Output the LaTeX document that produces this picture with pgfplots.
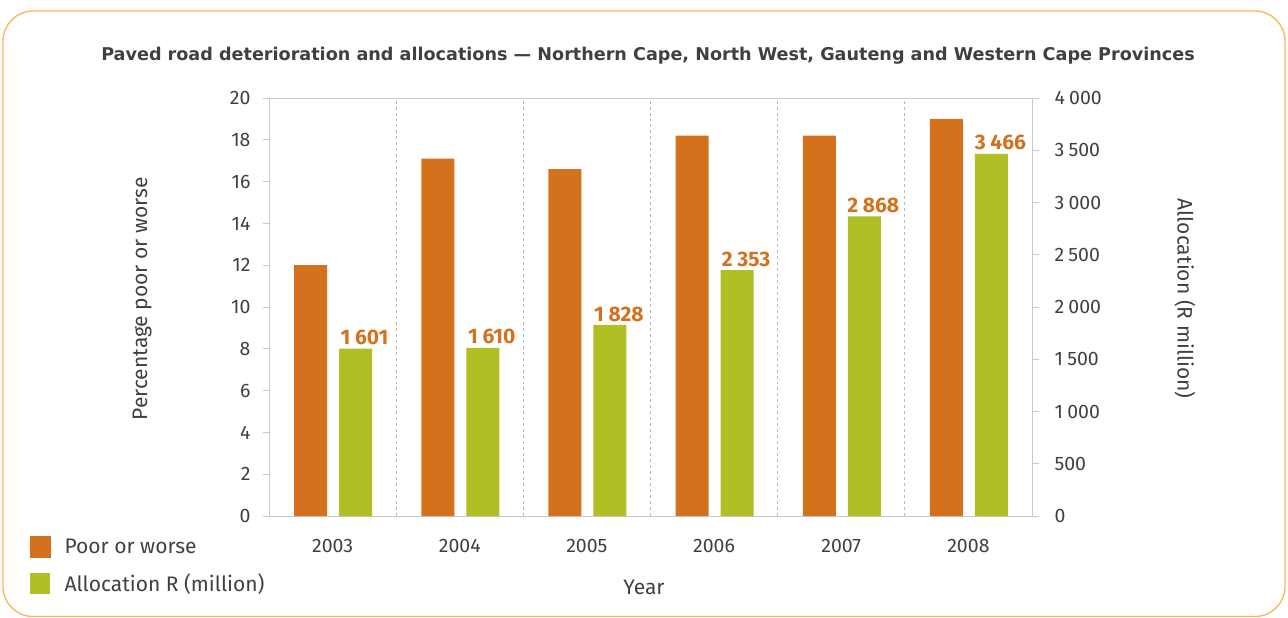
\documentclass[border=0pt]{standalone}
\usepackage{fontspec}
\setmainfont{Fira Sans}
\newfontfamily\titlefont{DejaVu Sans}
\usepackage{pgfplots}
\pgfplotsset{compat=1.18}
\definecolor{barorange}{RGB}{212,113,28}
\definecolor{bargreen}{RGB}{175,191,36}
\definecolor{frameor}{RGB}{248,182,84}
\definecolor{axgray}{RGB}{200,200,206}
\definecolor{txt}{RGB}{64,64,64}
\definecolor{dashgray}{RGB}{185,185,190}
\newcommand\tfont{\fontsize{19.5bp}{22bp}\selectfont}
\newcommand\lfont{\fontsize{21bp}{24bp}\selectfont}
\newcommand\labfont{\fontsize{21bp}{24bp}\selectfont\bfseries}
\begin{document}
\begin{tikzpicture}
\path[use as bounding box] (0,0) rectangle (1288bp,-618bp);
\draw[frameor, line width=1.3bp, rounded corners=30bp] (3bp,-11bp) rectangle (1285bp,-616.5bp);
\node[anchor=base, txt, font=\titlefont\fontsize{17.6bp}{20bp}\selectfont\bfseries] at (648bp,-60bp)
  {Paved road deterioration and allocations — Northern Cape, North West, Gauteng and Western Cape Provinces};
\begin{axis}[
  at={(269bp,-516bp)}, anchor=south west, width=763bp, height=418bp, scale only axis,
  xmin=-0.5, xmax=5.5, ymin=0, ymax=20,
  axis line style={axgray, line width=1bp},
  xtick={0,1,2,3,4,5}, xticklabels={2003,2004,2005,2006,2007,2008},
  xtick style={draw=none},
  xticklabel style={yshift=-13.5bp},
  ytick={0,2,...,20}, ytick pos=left, tick align=outside, major tick length=6bp,
  ytick style={axgray, line width=1bp},
  yticklabel style={xshift=-9bp},
  extra x ticks={0.5,1.5,2.5,3.5,4.5}, extra x tick labels={},
  extra x tick style={grid=major, major grid style={dashgray, dashed, line width=0.8bp}},
  ticklabel style={txt, font=\tfont},
  /pgf/number format/assume math mode=true,
  ylabel={Percentage poor or worse}, xlabel={Year},
  every axis y label/.style={at={(axis description cs:-0.1664,0.52)}, anchor=center, rotate=90, txt, font=\lfont},
  every axis x label/.style={at={(axis description cs:0.4915,-0.17)}, anchor=center, txt, font=\lfont},
  ybar, bar width=33bp, bar shift=-22bp,
  clip=false
]
\addplot[fill=barorange, draw=none] coordinates {(0,12.0) (1,17.1) (2,16.6) (3,18.2) (4,18.2) (5,19.0)};
\end{axis}
\begin{axis}[
  at={(269bp,-516bp)}, anchor=south west, width=763bp, height=418bp, scale only axis,
  xmin=-0.5, xmax=5.5, ymin=0, ymax=4000,
  axis y line*=right, axis x line=none,
  axis line style={axgray, line width=1bp},
  ytick={0,500,...,4000}, tick align=outside, major tick length=7bp,
  ytick style={axgray, line width=1bp},
  yticklabel style={txt, font=\tfont, xshift=12bp},
  scaled y ticks=false,
  /pgf/number format/.cd, assume math mode=true, 1000 sep={\hspace{0.22em}}, fixed, precision=0,
  /pgfplots/.cd,
  ylabel={Allocation (R million)},
  every axis y label/.style={at={(axis description cs:1.2005,0.52)}, anchor=center, rotate=-90, txt, font=\lfont},
  ybar, bar width=33bp, bar shift=23bp,
  nodes near coords,
  nodes near coords style={barorange, font=\labfont, xshift=9bp, anchor=south},
  clip=false,
  legend style={at={(axis description cs:-0.3133,-0.0478)}, anchor=north west, draw=none, fill=none,
    inner sep=0pt, row sep=14bp, font=\lfont, text=txt, cells={anchor=west},
    /tikz/every odd column/.append style={column sep=12bp}},
]
\addlegendimage{legend image code/.code={\fill[barorange] (0bp,-10.5bp) rectangle (20bp,10.5bp);}}
\addlegendentry{Poor or worse}
\addplot[fill=bargreen, draw=none, legend image code/.code={\fill[bargreen] (0bp,-10.5bp) rectangle (20bp,10.5bp);}]
  coordinates {(0,1601) (1,1610) (2,1828) (3,2353) (4,2868) (5,3466)};
\addlegendentry{Allocation R (million)}
\end{axis}
\end{tikzpicture}
\end{document}
